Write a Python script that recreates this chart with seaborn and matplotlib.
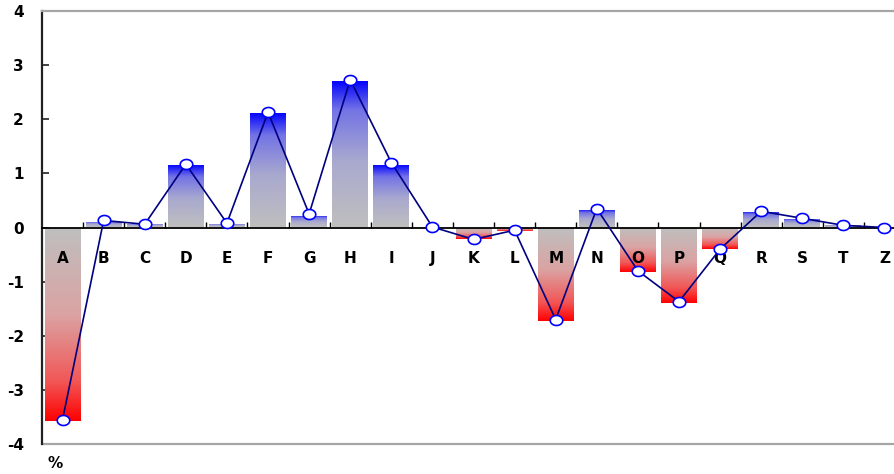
import numpy as np
import pandas as pd
import matplotlib
matplotlib.use("Agg")
import matplotlib.pyplot as plt
from matplotlib.colors import LinearSegmentedColormap
from matplotlib.path import Path
import seaborn as sns

# --- Data ---
categories = ["A", "B", "C", "D", "E", "F", "G", "H", "I", "J", "K",
              "L", "M", "N", "O", "P", "Q", "R", "S", "T", "Z"]
bar_values = [-3.58, 0.10, 0.06, 1.15, 0.06, 2.12, 0.22, 2.71, 1.16, 0.0, -0.22,
              -0.07, -1.72, 0.33, -0.82, -1.40, -0.40, 0.28, 0.15, 0.04, 0.0]
line_values = [-3.55, 0.13, 0.06, 1.17, 0.08, 2.13, 0.25, 2.73, 1.20, 0.01, -0.22,
               -0.05, -1.70, 0.35, -0.80, -1.37, -0.40, 0.30, 0.17, 0.04, 0.0]
y_ticks = [-4, -3, -2, -1, 0, 1, 2, 3, 4]

df = pd.DataFrame({"cat": categories, "pos": range(len(categories)),
                   "bar": bar_values, "line": line_values})

# --- Figure ---
sns.set_style("white")
plt.rcParams["font.family"] = ["DejaVu Sans"]
fig = plt.figure(figsize=(8.94, 4.74), dpi=100)
ax = fig.add_axes([42 / 894, 1 - 444 / 474, (905 - 42) / 894, (444 - 11) / 474])

sns.barplot(data=df, x="cat", y="bar", width=0.87, color="#bebebe",
            linewidth=0, ax=ax, zorder=2)

# gradient fill: grey at zero -> blue (positive) / red (negative) at bar end
blue_map = LinearSegmentedColormap.from_list(
    "bl", [(0, "#bfbfbf"), (0.45, "#a9a9cf"), (0.8, "#7373e6"), (1, "#0000ff")])
red_map = LinearSegmentedColormap.from_list(
    "rd", [(0, "#bfbfbf"), (0.45, "#dba3a3"), (0.8, "#f25656"), (1, "#ff0000")])
grad = np.linspace(0, 1, 256).reshape(-1, 1)
for patch in ax.patches:
    x0, y0 = patch.get_x(), patch.get_y()
    w, h = patch.get_width(), patch.get_height()
    if h == 0:
        continue
    lo, hi = min(y0, y0 + h), max(y0, y0 + h)
    cmap = blue_map if h > 0 else red_map
    img = grad if h > 0 else grad[::-1]
    im = ax.imshow(img, cmap=cmap, aspect="auto", origin="lower",
                   extent=(x0, x0 + w, lo, hi), zorder=2)
    im.set_clip_path(patch)
    patch.set_facecolor("none")

# elliptical marker
t = np.linspace(0, 2 * np.pi, 60)
ellipse = Path(np.column_stack([1.25 * np.cos(t), np.sin(t)]), closed=True)

sns.lineplot(data=df, x="pos", y="line", color="#000080", linewidth=1.2,
             marker=ellipse, markersize=9, markerfacecolor="white",
             markeredgecolor="#0000ff", markeredgewidth=1.2, ax=ax, zorder=6)

ax.set_xlim(-0.5, len(categories) - 0.5)
ax.set_ylim(-4, 4)
ax.set_xlabel("")
ax.set_ylabel("")

# x axis sits on zero, with boundary ticks pointing up
ax.spines["bottom"].set_position(("data", 0))
ax.spines["bottom"].set_color("black")
ax.spines["bottom"].set_linewidth(1.3)
ax.spines["bottom"].set_zorder(4)
ax.spines["left"].set_color("#222222")
ax.spines["left"].set_linewidth(1.6)
ax.spines["top"].set_color("#a6a6a6")
ax.spines["top"].set_linewidth(1.6)
ax.spines["right"].set_visible(False)
ax.axhline(-4, color="#a6a6a6", linewidth=1.6, clip_on=False)
ax.xaxis.set_zorder(5)

ax.set_xticks(range(len(categories)))
ax.set_xticklabels(categories, fontsize=11, fontweight="bold", color="black")
ax.set_xticks(np.arange(0.5, len(categories) - 0.5, 1.0), minor=True)
ax.tick_params(axis="x", which="major", length=0, pad=17)
ax.tick_params(axis="x", which="minor", direction="in", length=4,
               width=1, color="black", bottom=True)

ax.set_yticks(y_ticks)
ax.set_yticklabels([str(v) for v in y_ticks], fontsize=11, fontweight="bold",
                   color="black")
ax.tick_params(axis="y", direction="in", length=5, width=1.2,
               color="#222222", pad=13, left=True)

fig.text(47 / 894, 1 - 463 / 474, "%", fontsize=11, fontweight="bold",
         ha="left", va="center", color="black")

fig.savefig("out.png", dpi=100)
